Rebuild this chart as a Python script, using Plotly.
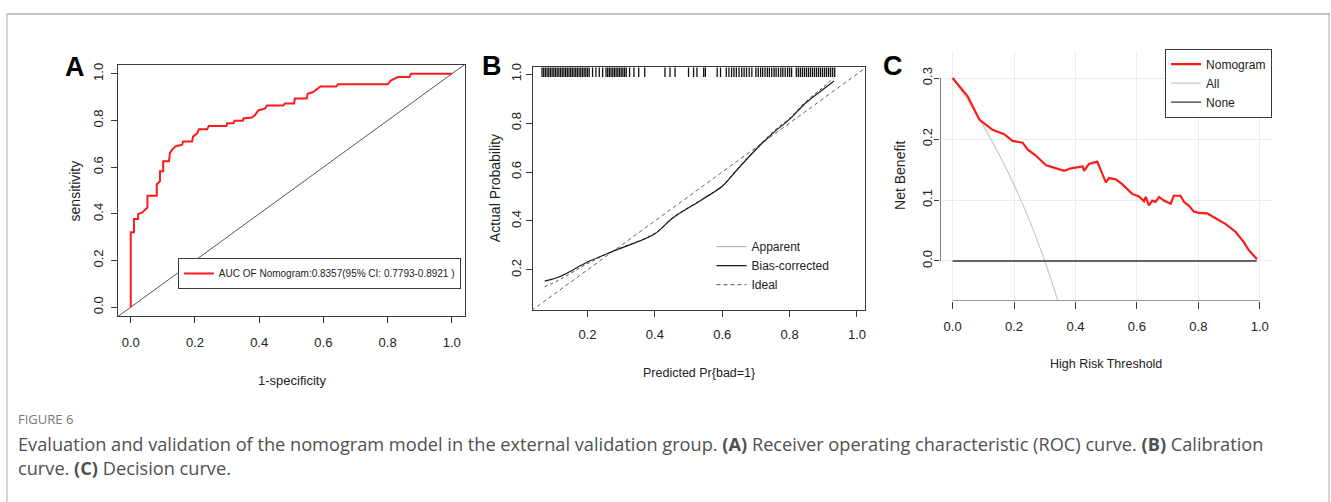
import plotly.graph_objects as go

W, H = 1331, 502

# ---------------- data ----------------
# Panel A: ROC curve (1-specificity, sensitivity)
roc_fpr = [0.0, 0.0, 0.010, 0.010, 0.023, 0.023, 0.036, 0.046, 0.052, 0.052, 0.081, 0.081,
           0.091, 0.091, 0.101, 0.101, 0.119, 0.122, 0.129, 0.139, 0.160, 0.163, 0.191, 0.194,
           0.207, 0.212, 0.238, 0.243, 0.298, 0.300, 0.320, 0.323, 0.349, 0.351, 0.377, 0.387,
           0.398, 0.418, 0.424, 0.475, 0.480, 0.509, 0.511, 0.548, 0.551, 0.568, 0.579, 0.591,
           0.640, 0.646, 0.800, 0.811, 0.832, 0.868, 0.873, 1.0]
roc_tpr = [0.0, 0.321, 0.321, 0.378, 0.378, 0.399, 0.406, 0.420, 0.427, 0.477, 0.477, 0.526,
           0.540, 0.583, 0.583, 0.625, 0.625, 0.660, 0.675, 0.689, 0.696, 0.710, 0.710, 0.731,
           0.745, 0.762, 0.762, 0.776, 0.776, 0.788, 0.788, 0.799, 0.799, 0.809, 0.813, 0.823,
           0.844, 0.851, 0.864, 0.864, 0.873, 0.873, 0.894, 0.894, 0.915, 0.922, 0.932, 0.946,
           0.946, 0.955, 0.955, 0.972, 0.986, 0.986, 1.0, 1.0]
ref_line = [-0.1, 1.1]
roc_label = "AUC OF Nomogram:0.8357(95% CI: 0.7793-0.8921 )"

# Panel B: calibration curve
cal_pred = [0.073, 0.117, 0.200, 0.275, 0.399, 0.453, 0.542, 0.601, 0.641, 0.700, 0.754,
            0.799, 0.848, 0.897, 0.932]
cal_bias = [0.154, 0.172, 0.232, 0.276, 0.347, 0.412, 0.489, 0.543, 0.604, 0.692, 0.763,
            0.814, 0.882, 0.935, 0.972]
cal_apparent = [0.131, 0.160, 0.226, 0.276, 0.349, 0.414, 0.490, 0.545, 0.606, 0.695, 0.768,
                0.818, 0.887, 0.943, 0.986]
ideal_line = [0.0, 1.1]
rug_pred = [0.065, 0.070, 0.075, 0.080, 0.085, 0.090, 0.095, 0.100, 0.105, 0.110, 0.115,
            0.120, 0.125, 0.130, 0.135, 0.140, 0.145, 0.150, 0.155, 0.160, 0.165, 0.170,
            0.175, 0.180, 0.185, 0.190, 0.195, 0.200, 0.205, 0.215, 0.225, 0.235, 0.245,
            0.255, 0.260, 0.265, 0.270, 0.275, 0.280, 0.285, 0.290, 0.295, 0.300, 0.305,
            0.310, 0.315, 0.325, 0.338, 0.352, 0.370, 0.430, 0.445, 0.460, 0.500, 0.515,
            0.525, 0.545, 0.550, 0.585, 0.595, 0.612, 0.620, 0.628, 0.635, 0.642, 0.650,
            0.658, 0.665, 0.672, 0.680, 0.688, 0.700, 0.707, 0.714, 0.720, 0.727, 0.734,
            0.740, 0.747, 0.754, 0.760, 0.767, 0.774, 0.780, 0.787, 0.794, 0.800, 0.806,
            0.820, 0.826, 0.832, 0.838, 0.844, 0.850, 0.856, 0.862, 0.868, 0.874, 0.880,
            0.886, 0.892, 0.898, 0.904, 0.910, 0.916, 0.922, 0.928, 0.934]

# Panel C: decision curve
dca_thr = [0.0, 0.049, 0.087, 0.108, 0.130, 0.168, 0.195, 0.228, 0.244, 0.271, 0.304, 0.325,
           0.363, 0.385, 0.423, 0.428, 0.444, 0.471, 0.499, 0.509, 0.531, 0.552, 0.585, 0.607,
           0.623, 0.629, 0.639, 0.650, 0.661, 0.672, 0.688, 0.710, 0.720, 0.742, 0.753, 0.769,
           0.785, 0.802, 0.829, 0.856, 0.888, 0.921, 0.948, 0.964, 0.980, 0.991]
dca_nomogram = [0.300, 0.270, 0.232, 0.224, 0.215, 0.208, 0.197, 0.194, 0.183, 0.173, 0.157,
                0.154, 0.148, 0.152, 0.155, 0.148, 0.159, 0.163, 0.129, 0.136, 0.134, 0.126,
                0.110, 0.106, 0.098, 0.105, 0.091, 0.099, 0.097, 0.105, 0.099, 0.094, 0.107,
                0.107, 0.097, 0.091, 0.081, 0.079, 0.078, 0.070, 0.061, 0.048, 0.031, 0.018,
                0.010, 0.003]
all_thr = [0.0, 0.05, 0.10, 0.15, 0.20, 0.25, 0.30, 0.34, 0.37]
all_nb = [0.300, 0.263, 0.222, 0.176, 0.125, 0.067, 0.000, -0.061, -0.112]
none_thr = [0.0, 0.99]
none_nb = [0.0, 0.0]

# ticks
a_ticks = [0.0, 0.2, 0.4, 0.6, 0.8, 1.0]
a_ticktext = ["0.0", "0.2", "0.4", "0.6", "0.8", "1.0"]
b_ticks = [0.2, 0.4, 0.6, 0.8, 1.0]
b_ticktext = ["0.2", "0.4", "0.6", "0.8", "1.0"]
c_xticks = [0.0, 0.2, 0.4, 0.6, 0.8, 1.0]
c_xticktext = ["0.0", "0.2", "0.4", "0.6", "0.8", "1.0"]
c_yticks = [0.0, 0.1, 0.2, 0.3]
c_yticktext = ["0.0", "0.1", "0.2", "0.3"]

# ---------------- styles ----------------
ARIAL = "Liberation Sans, Arial, sans-serif"
CAP = "Open Sans, Noto Sans, sans-serif"
INK = "#222222"
AX = "#3a3a3a"

def px(x):
    return x / W

def py(y):
    return 1 - y / H

a_xr, a_yr = [-0.04, 1.04], [-0.04, 1.04]
b_xr, b_yr = [0.037, 1.025], [0.038, 1.027]
c_xr, c_yr = [-0.04, 1.04], [-0.065, 0.345]

fig = go.Figure()

# Panel A
fig.add_trace(go.Scatter(x=ref_line, y=ref_line, mode="lines", line=dict(color="#555555", width=1),
                         showlegend=False, xaxis="x", yaxis="y", hoverinfo="skip"))
fig.add_trace(go.Scatter(x=roc_fpr, y=roc_tpr, mode="lines", line=dict(color="#ff1a1a", width=2),
                         name=roc_label, legend="legend", xaxis="x", yaxis="y"))

# Panel B
fig.add_trace(go.Scatter(x=ideal_line, y=ideal_line, mode="lines",
                         line=dict(color="#666666", width=1, dash="4px,3px"),
                         showlegend=False, xaxis="x2", yaxis="y2", hoverinfo="skip"))
fig.add_trace(go.Scatter(x=cal_pred, y=cal_apparent, mode="lines",
                         line=dict(color="#444444", width=1, dash="dot", shape="spline"),
                         showlegend=False, xaxis="x2", yaxis="y2"))
fig.add_trace(go.Scatter(x=cal_pred, y=cal_bias, mode="lines",
                         line=dict(color="#1a1a1a", width=1.2, shape="spline"),
                         showlegend=False, xaxis="x2", yaxis="y2"))
fig.add_trace(go.Scatter(x=[None], y=[None], mode="lines", line=dict(color="#aaaaaa", width=1),
                         name="Apparent", legend="legend2", xaxis="x2", yaxis="y2"))
fig.add_trace(go.Scatter(x=[None], y=[None], mode="lines", line=dict(color="#1a1a1a", width=1.2),
                         name="Bias-corrected", legend="legend2", xaxis="x2", yaxis="y2"))
fig.add_trace(go.Scatter(x=[None], y=[None], mode="lines",
                         line=dict(color="#555555", width=1, dash="4px,3px"),
                         name="Ideal", legend="legend2", xaxis="x2", yaxis="y2"))
fig.add_trace(go.Scatter(x=rug_pred, y=[b_yr[1] - 0.016] * len(rug_pred), mode="markers",
                         marker=dict(symbol="line-ns", size=8,
                                     line=dict(color="#111111", width=1.3)),
                         showlegend=False, xaxis="x2", yaxis="y2", hoverinfo="skip"))

# Panel C
fig.add_trace(go.Scatter(x=all_thr, y=all_nb, mode="lines", line=dict(color="#c8c8c8", width=1.2, shape="spline"),
                         name="All", legend="legend3", xaxis="x3", yaxis="y3"))
fig.add_trace(go.Scatter(x=none_thr, y=none_nb, mode="lines", line=dict(color="#333333", width=1.3),
                         name="None", legend="legend3", xaxis="x3", yaxis="y3"))
fig.add_trace(go.Scatter(x=dca_thr, y=dca_nomogram, mode="lines", line=dict(color="#ff1a1a", width=2.2),
                         name="Nomogram", legend="legend3", legendrank=1, xaxis="x3", yaxis="y3"))

tickfont_h = dict(family=ARIAL, size=13, color=INK)
tickfont_v = dict(family=ARIAL, size=13, color=INK)

box_axis = dict(showline=True, mirror=True, linecolor=AX, linewidth=1, ticks="outside",
                ticklen=6, tickcolor=AX, tickwidth=1, showgrid=False, zeroline=False,
                tickmode="array", fixedrange=True)

fig.update_layout(
    width=W, height=H, margin=dict(l=0, r=0, t=0, b=0),
    paper_bgcolor="white", plot_bgcolor="white",
    xaxis=dict(box_axis, domain=[px(118), px(465)], range=a_xr, tickvals=a_ticks,
               ticktext=a_ticktext, tickfont=tickfont_h, ticklabelstandoff=8, anchor="y"),
    yaxis=dict(box_axis, domain=[py(315), py(61)], range=a_yr, tickvals=a_ticks,
               ticktext=a_ticktext, tickfont=tickfont_v, tickangle=-90, ticklabelstandoff=3,
               anchor="x"),
    xaxis2=dict(box_axis, domain=[px(533), px(866)], range=b_xr, tickvals=b_ticks,
                ticktext=b_ticktext, tickfont=tickfont_h, ticklabelstandoff=7, anchor="y2"),
    yaxis2=dict(box_axis, domain=[py(308), py(64)], range=b_yr, tickvals=b_ticks,
                ticktext=b_ticktext, tickfont=tickfont_v, tickangle=-90, ticklabelstandoff=-1,
                anchor="x2"),
    xaxis3=dict(domain=[px(941), px(1273)], range=c_xr, tickmode="array", tickvals=c_xticks,
                ticktext=c_xticktext, tickfont=tickfont_h, ticks="outside", ticklen=7,
                tickcolor=AX, showline=False, showgrid=True, gridcolor="#ececec", gridwidth=1,
                zeroline=False, ticklabelstandoff=7, anchor="y3", fixedrange=True),
    yaxis3=dict(domain=[py(299), py(47)], range=c_yr, tickmode="array", tickvals=c_yticks,
                ticktext=c_yticktext, tickfont=tickfont_v, tickangle=-90, ticks="outside",
                ticklen=5, tickcolor=AX, showline=False, showgrid=True, gridcolor="#ececec",
                gridwidth=1, zeroline=False, ticklabelstandoff=-3, anchor="x3", fixedrange=True),
    legend=dict(x=px(178), y=py(256), xanchor="left", yanchor="top",
                bgcolor="white", bordercolor=AX, borderwidth=1,
                font=dict(family=ARIAL, size=10, color=INK), itemwidth=30),
    legend2=dict(x=px(712), y=py(230), xanchor="left", yanchor="top",
                 bgcolor="rgba(0,0,0,0)", borderwidth=0, tracegroupgap=0,
                 font=dict(family=ARIAL, size=12, color=INK), itemwidth=30),
    legend3=dict(x=px(1273), y=py(45), xanchor="right", yanchor="top",
                 bgcolor="white", bordercolor=AX, borderwidth=1, traceorder="normal",
                 font=dict(family=ARIAL, size=12, color=INK), itemwidth=30),
    showlegend=True,
)

# C axis lines spanning the tick range (R style)
fig.add_shape(type="line", xref="x3", yref="y3", x0=c_xr[0], x1=c_xr[0],
              y0=min(c_yticks), y1=max(c_yticks), line=dict(color=AX, width=1.2))
fig.add_shape(type="line", xref="x3", yref="y3", x0=min(c_xticks), x1=max(c_xticks),
              y0=c_yr[0], y1=c_yr[0], line=dict(color=AX, width=1.2))

# Outer frame
fig.add_shape(type="line", xref="paper", yref="paper", x0=px(7), x1=px(1331), y0=py(10), y1=py(10),
              line=dict(color="#c4c4c4", width=2))
fig.add_shape(type="line", xref="paper", yref="paper", x0=px(7), x1=px(7), y0=py(10), y1=0,
              line=dict(color="#a8a8a8", width=1))
fig.add_shape(type="line", xref="paper", yref="paper", x0=px(1330), x1=px(1330), y0=py(10), y1=0,
              line=dict(color="#a8a8a8", width=1))

def ann(text, x, y, size, family=ARIAL, color=INK, angle=0, xanchor="center", bold=False):
    t = f"<b>{text}</b>" if bold else text
    fig.add_annotation(text=t, x=px(x), y=py(y), xref="paper", yref="paper", showarrow=False,
                       xanchor=xanchor, yanchor="middle", textangle=angle,
                       font=dict(family=family, size=size, color=color))

# panel letters
ann("A", 75, 64, 27, color="#000000", bold=True)
ann("B", 492, 63, 27, color="#000000", bold=True)
ann("C", 894, 62, 27, color="#000000", bold=True)

# axis titles
ann("1-specificity", 292, 380, 13)
ann("sensitivity", 75, 188, 14, angle=-90)
ann("Predicted Pr{bad=1}", 700, 372, 12.5)
ann("Actual Probability", 495, 186, 14, angle=-90)
ann("High Risk Threshold", 1107, 363, 12.5)
ann("Net Benefit", 900, 173, 14, angle=-90)

# caption
ann("FIGURE 6", 16, 418, 13, family=CAP, color="#777777", xanchor="left")
ann("Evaluation and validation of the nomogram model in the external validation group. "
    "<b>(A)</b> Receiver operating characteristic (ROC) curve. <b>(B)</b> Calibration",
    16, 444, 18.2, family=CAP, color="#505050", xanchor="left")
ann("curve. <b>(C)</b> Decision curve.", 16, 468, 18.2, family=CAP, color="#505050", xanchor="left")

fig.write_html("out.html")
